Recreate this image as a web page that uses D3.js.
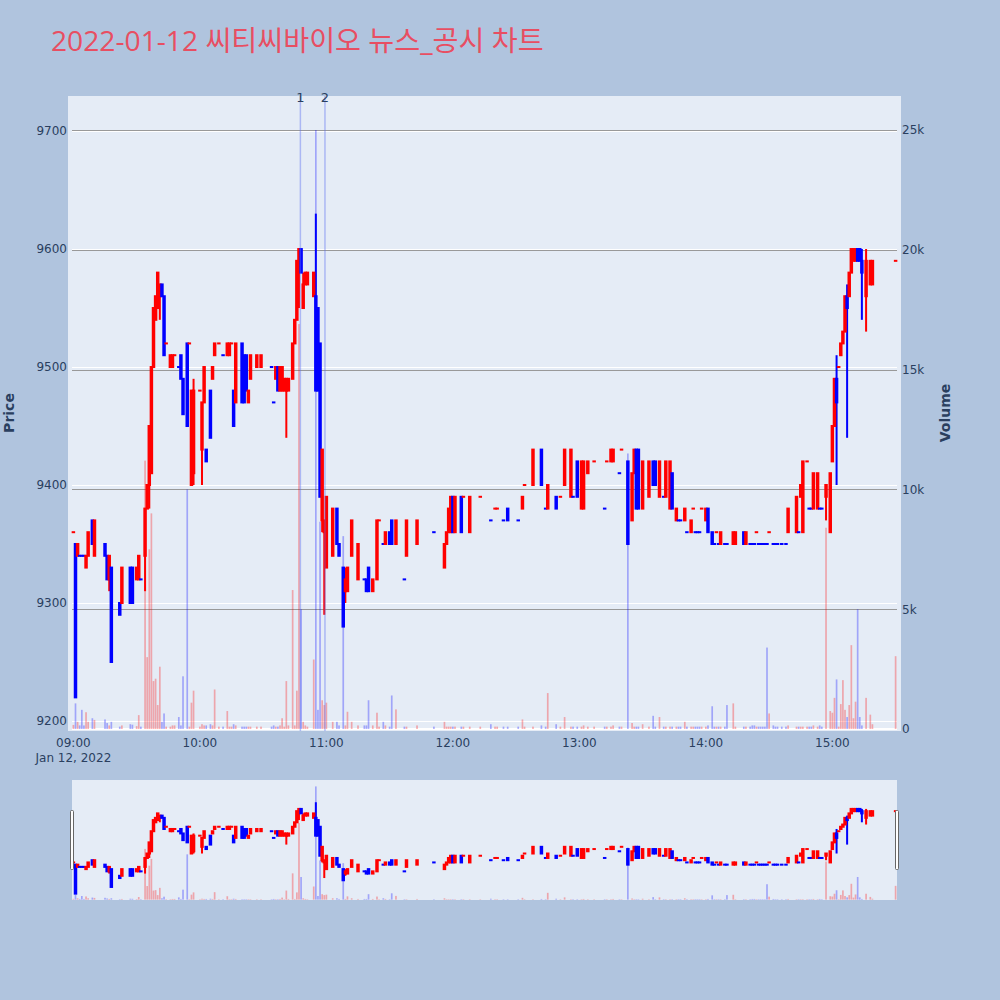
<!DOCTYPE html>
<html><head><meta charset="utf-8">
<script src="https://cdn.jsdelivr.net/npm/d3@7"></script>
<style>body{margin:0;background:#B0C4DE;}svg{display:block}</style>
</head><body><svg id="chart" width="1000" height="1000"></svg>
<script>
// ---- data (minutes after 09:00, 2022-01-12) ----
const minute = [0,1,2,3,4,5,6,7,9,10, 15,16,17,18,22,23,27,28,30,31, 32,34,35,36,37,38,39,40,41,42,
 43,44,46,47,48,50,51,52,54,55, 56,57,60,61,62,63,65,66,67,69, 71,73,74,75,76,77,80,81,82,83,
 84,87,89,94,95,96,97,98,99,100, 101,102,104,105,106,107,108,109,110,111, 114,115,116,117,118,119,120,123,125,126,
 128,129,130,132,135,138,139,140,142,144, 145,147,148,150,151,153,157,158,163,171, 176,177,178,179,180,181,184,185,188,193,
 198,200,201,204,206,211,213,214,218,222, 224,225,229,231,233,236,237,239,241,242, 244,247,252,253,255,256,259,260,263,265,
 266,267,268,270,273,275,276,278,280,281, 283,284,286,287,288,290,291,293,294,295, 296,297,298,300,301,303,304,305,306,307,
 309,310,313,314,318,319,321,322,323,324, 325,326,327,328,329,330,332,333,334,336, 338,339,343,344,345,346,348,349,350,351,
 353,354,355,357,359,360,361,362,363,364, 365,366,367,368,369,370,371,372,373,374, 376,378,379,390];
const openP = [9360,9350,9340,9340,9340,9340,9330,9340,9370,9340, 9350,9340,9320,9330,9300,9300,9330,9330,9320,9320, 9320,9340,9380,9400,9410,9500,9540,9550,9560,9570,
 9560,9520,9500,9500,9510,9500,9510,9490,9520,9520, 9400,9410,9480,9430,9470,9430,9480,9490,9510,9520, 9510,9510,9510,9520,9480,9470,9520,9510,9510,9470,
 9490,9500,9500,9500,9470,9490,9500,9480,9480,9480, 9480,9480,9490,9520,9540,9590,9600,9550,9570,9570, 9560,9560,9550,9520,9370,9360,9330,9340,9380,9350,
 9330,9310,9310,9340,9320,9320,9320,9330,9310,9320, 9370,9350,9350,9360,9370,9350,9320,9340,9350,9360, 9330,9350,9360,9360,9390,9360,9390,9390,9360,9390,
 9370,9380,9380,9370,9380,9370,9380,9400,9400,9430, 9380,9380,9390,9390,9400,9390,9390,9420,9380,9380, 9410,9420,9380,9420,9420,9420,9410,9430,9420,9370,
 9410,9430,9430,9380,9390,9420,9420,9390,9390,9390, 9380,9410,9370,9370,9370,9370,9360,9360,9380,9360, 9360,9360,9380,9370,9380,9360,9350,9360,9350,9350,
 9350,9350,9350,9350,9360,9350,9350,9350,9350,9360, 9350,9350,9350,9350,9350,9360,9350,9350,9350,9350, 9350,9360,9360,9360,9390,9360,9420,9380,9380,9380,
 9380,9380,9380,9390,9360,9420,9450,9490,9500,9510, 9520,9530,9560,9560,9580,9590,9590,9600,9600,9590, 9560,9570,9570,9590];
const highP = [9360,9350,9350,9340,9340,9340,9340,9360,9370,9370, 9350,9340,9340,9330,9300,9330,9330,9330,9330,9340, 9320,9380,9400,9450,9500,9550,9560,9580,9570,9570,
 9560,9520,9510,9510,9510,9500,9510,9490,9520,9520, 9480,9490,9480,9470,9500,9430,9480,9500,9520,9520, 9510,9520,9520,9520,9480,9520,9520,9510,9510,9480,
 9510,9510,9510,9500,9470,9500,9500,9500,9500,9490, 9490,9490,9520,9540,9590,9600,9600,9580,9580,9580, 9580,9630,9550,9520,9430,9370,9390,9380,9380,9350,
 9330,9330,9330,9370,9350,9320,9320,9330,9320,9370, 9370,9350,9360,9360,9370,9370,9320,9370,9370,9360, 9350,9360,9380,9390,9390,9390,9390,9390,9390,9390,
 9370,9380,9380,9370,9380,9370,9390,9400,9430,9430, 9380,9400,9390,9390,9430,9430,9390,9420,9420,9420, 9420,9420,9380,9420,9430,9430,9410,9430,9420,9410,
 9430,9430,9430,9420,9420,9420,9420,9420,9390,9420, 9420,9410,9380,9370,9370,9380,9360,9370,9380,9360, 9360,9360,9380,9380,9380,9360,9350,9360,9350,9360,
 9350,9350,9360,9360,9360,9360,9350,9350,9350,9360, 9350,9350,9350,9350,9350,9360,9350,9350,9350,9350, 9350,9380,9390,9360,9400,9420,9420,9380,9380,9410,
 9410,9380,9380,9400,9410,9450,9490,9510,9500,9520, 9530,9560,9570,9580,9600,9600,9600,9600,9600,9600, 9600,9590,9590,9590];
const lowP = [9360,9220,9340,9340,9340,9340,9330,9340,9350,9340, 9340,9320,9310,9250,9290,9300,9300,9300,9320,9320, 9320,9310,9380,9380,9410,9500,9540,9550,9540,9560,
 9510,9520,9500,9500,9510,9500,9490,9460,9450,9520, 9400,9400,9480,9400,9470,9420,9440,9490,9510,9520, 9510,9510,9510,9520,9450,9470,9470,9470,9480,9470,
 9490,9500,9500,9500,9470,9490,9480,9480,9480,9480, 9440,9480,9490,9520,9540,9550,9580,9550,9570,9570, 9560,9480,9480,9390,9360,9290,9330,9340,9350,9340,
 9280,9300,9310,9340,9320,9320,9310,9310,9310,9320, 9370,9350,9350,9350,9350,9350,9320,9340,9350,9360, 9330,9350,9360,9360,9360,9360,9360,9390,9360,9390,
 9370,9380,9380,9370,9370,9370,9380,9400,9400,9400, 9380,9380,9380,9390,9400,9390,9390,9390,9380,9380, 9410,9420,9380,9420,9420,9420,9410,9430,9350,9370,
 9410,9380,9380,9380,9390,9400,9400,9390,9390,9390, 9380,9380,9370,9370,9370,9370,9360,9360,9380,9360, 9360,9360,9380,9370,9360,9350,9350,9360,9350,9350,
 9350,9350,9350,9350,9350,9350,9350,9350,9350,9360, 9350,9350,9350,9350,9350,9360,9350,9350,9350,9350, 9350,9360,9360,9360,9390,9360,9420,9380,9380,9380,
 9380,9380,9380,9370,9360,9420,9450,9400,9500,9510, 9520,9530,9440,9560,9580,9590,9590,9590,9590,9540, 9530,9570,9570,9590];
const closeP = [9360,9220,9350,9340,9340,9340,9340,9360,9350,9370, 9340,9320,9340,9250,9290,9330,9300,9300,9330,9340, 9320,9380,9400,9450,9500,9550,9560,9580,9570,9560,
 9510,9520,9510,9510,9510,9500,9490,9460,9450,9520, 9480,9480,9480,9470,9500,9420,9440,9500,9520,9520, 9510,9520,9520,9520,9450,9520,9470,9470,9480,9480,
 9510,9510,9510,9500,9470,9500,9480,9500,9500,9490, 9490,9490,9520,9540,9590,9600,9580,9570,9580,9580, 9580,9480,9480,9390,9430,9370,9390,9380,9350,9340,
 9280,9320,9330,9370,9350,9320,9310,9310,9320,9370, 9370,9350,9360,9350,9350,9370,9320,9370,9370,9360, 9350,9360,9380,9390,9360,9390,9360,9390,9390,9390,
 9370,9380,9380,9370,9370,9370,9390,9400,9430,9400, 9380,9400,9380,9390,9430,9430,9390,9390,9420,9420, 9420,9420,9380,9420,9430,9430,9410,9430,9350,9410,
 9430,9380,9380,9420,9420,9400,9400,9420,9390,9420, 9420,9380,9380,9370,9370,9380,9360,9370,9380,9360, 9360,9360,9380,9380,9360,9350,9350,9360,9350,9360,
 9350,9350,9360,9360,9350,9360,9350,9350,9350,9360, 9350,9350,9350,9350,9350,9360,9350,9350,9350,9350, 9350,9380,9390,9360,9400,9420,9420,9380,9380,9410,
 9410,9380,9380,9400,9410,9450,9490,9470,9500,9520, 9530,9560,9550,9580,9600,9600,9600,9590,9590,9580, 9590,9590,9590,9590];
const volume = [170,1070,300,150,800,150,700,300,450,380, 400,250,150,300,100,150,200,180,120,580, 100,11200,3000,7500,9000,2000,2100,1000,2600,300,
 650,100,100,150,150,500,150,2200,10000,100, 1100,1600,100,200,150,150,200,150,1650,100, 100,750,100,100,200,150,100,100,100,100,
 100,100,100,100,150,100,100,150,450,100, 2000,150,5800,150,1600,16900,5000,300,150,100, 2900,25000,800,8650,1200,1000,1100,300,300,150,
 8050,150,720,300,150,150,150,1200,150,680, 100,300,150,100,1400,820,100,100,150,100, 300,100,100,100,100,100,100,100,100,100,
 200,100,100,100,100,100,400,100,100,150, 100,1500,200,100,500,100,100,100,100,150, 100,100,100,100,100,150,100,100,11500,250,
 100,100,100,200,100,550,100,500,100,100, 100,100,100,100,100,300,100,100,100,100, 100,100,100,100,150,950,100,100,100,100,
 100,1000,1070,100,100,100,100,150,150,100, 100,100,100,100,3400,650,150,100,100,100, 100,150,100,100,100,100,100,100,100,150,
 100,150,100,8400,750,680,1300,2070,100,1040, 2040,800,500,1000,3500,450,1140,5000,500,150, 1300,600,200,3040];
const newsTimes = ["10:47:40","10:59:20"];
const newsLabels = ["1","2"];
const priceTicks = [9200,9300,9400,9500,9600,9700];
const volumeTicks = [0,5000,10000,15000,20000,25000];
const volumeTickLabels = ["0","5k","10k","15k","20k","25k"];
const timeTickHours = [9,10,11,12,13,14,15];
const titleText = "2022-01-12 씨티씨바이오 뉴스_공시 차트";

// ---- helpers ----
const base = new Date(2022,0,12,9,0,0);
const toDate = m => new Date(base.getTime() + m*60000);
const dates = minute.map(toDate);
const INC = "#FF0000", DEC = "#0000FF";
let prevDir = 1, prevClose = null;
const dir = minute.map((m,i) => {
  let d;
  if (closeP[i] > openP[i]) d = 1;
  else if (closeP[i] < openP[i]) d = -1;
  else if (prevClose === null) d = 1;
  else if (closeP[i] > prevClose) d = 1;
  else if (closeP[i] < prevClose) d = -1;
  else d = prevDir;
  prevDir = d; prevClose = closeP[i];
  return d;
});

const svg = d3.select("#chart");
const FONT = "'DejaVu Sans', Verdana, sans-serif";
const TXT = "#2a3f5f";

const main = {x0:72, x1:897, y0:96, y1:731};
const sl = {x0:72, x1:897, y0:780, y1:900};
const x = d3.scaleTime().domain([toDate(-0.66), toDate(390.66)]).range([main.x0, main.x1]);
const pDom = [9191.5, 9729.7], vDom = [-83, 26419];
const yP = d3.scaleLinear().domain(pDom).range([main.y1, main.y0]);
const yV = d3.scaleLinear().domain(vDom).range([main.y1, main.y0]);
const yPs = d3.scaleLinear().domain(pDom).range([sl.y1, sl.y0]);
const yVs = d3.scaleLinear().domain(vDom).range([sl.y1, sl.y0]);

// title
svg.append("text").attr("x", 51).attr("y", 51)
  .attr("font-family", "'Open Sans','Noto Sans CJK KR',sans-serif").attr("font-size", 28.2)
  .attr("fill", "#E84E62").text(titleText);

// main background
svg.append("rect").attr("x", 68).attr("y", main.y0).attr("width", 901-68).attr("height", main.y1-main.y0).attr("fill", "#E5ECF6");

const defs = svg.append("defs");
defs.append("clipPath").attr("id","clipMain").append("rect").attr("x",68).attr("y",main.y0).attr("width",901-68).attr("height",main.y1-main.y0);
defs.append("clipPath").attr("id","clipSl").append("rect").attr("x",sl.x0).attr("y",sl.y0).attr("width",sl.x1-sl.x0).attr("height",sl.y1-sl.y0);

// price grid (white)
svg.append("g").selectAll("line").data(priceTicks).join("line")
  .attr("x1", main.x0).attr("x2", main.x1)
  .attr("y1", d => Math.round(yP(d))+0.5).attr("y2", d => Math.round(yP(d))+0.5)
  .attr("stroke", "#fff").attr("stroke-width", 1);
// volume grid (gray)
svg.append("g").selectAll("line").data(volumeTicks.filter(v=>v>0)).join("line")
  .attr("x1", main.x0).attr("x2", main.x1)
  .attr("y1", d => Math.round(yV(d))+0.5).attr("y2", d => Math.round(yV(d))+0.5)
  .attr("stroke", "#999").attr("stroke-width", 1);
// volume zero line
svg.append("line").attr("x1", main.x0).attr("x2", main.x1)
  .attr("y1", yV(0)).attr("y2", yV(0)).attr("stroke", "#fff").attr("stroke-width", 2);

const bodyHalf = 0.74;
function drawCandles(g, xs, yp, yv) {
  const idx = d3.range(minute.length);
  g.append("g").selectAll("rect").data(idx).join("rect")
    .attr("x", i => xs(dates[i]) - 1).attr("width", 2)
    .attr("y", i => yp(highP[i])).attr("height", i => Math.max(0, yp(lowP[i]) - yp(highP[i])))
    .attr("fill", i => dir[i] > 0 ? INC : DEC);
  g.append("g").selectAll("rect").data(idx).join("rect")
    .attr("x", i => xs(dates[i]) - bodyHalf - 1).attr("width", 2*bodyHalf + 2)
    .attr("y", i => yp(Math.max(openP[i], closeP[i])) - 1)
    .attr("height", i => Math.abs(yp(openP[i]) - yp(closeP[i])) + 2)
    .attr("fill", i => dir[i] > 0 ? INC : DEC);
  const bw = 0.8 * (xs(toDate(1)) - xs(toDate(0)));
  g.append("g").selectAll("rect").data(idx).join("rect")
    .attr("x", i => xs(dates[i]) - bw/2).attr("width", bw)
    .attr("y", i => yv(volume[i])).attr("height", i => yv(0) - yv(volume[i]))
    .attr("fill", i => dir[i] > 0 ? "rgba(255,0,0,0.3)" : "rgba(0,0,255,0.3)");
}
drawCandles(svg.append("g").attr("clip-path","url(#clipMain)"), x, yP, yV);

// news lines
const parseHM = s => { const [h,m,sec] = s.split(":").map(Number); return new Date(2022,0,12,h,m,sec||0); };
const ng = svg.append("g");
ng.selectAll("line").data(newsTimes).join("line")
  .attr("x1", d => x(parseHM(d))).attr("x2", d => x(parseHM(d)))
  .attr("y1", main.y0).attr("y2", main.y1)
  .attr("stroke", "rgba(90,110,240,0.42)").attr("stroke-width", 1.5);
ng.selectAll("text").data(newsTimes).join("text")
  .attr("x", d => x(parseHM(d))).attr("y", 101.5).attr("text-anchor","middle")
  .attr("font-family", FONT).attr("font-size", 13).attr("fill", TXT)
  .text((d,i) => newsLabels[i]);

// axes tick labels
svg.append("g").selectAll("text").data(priceTicks).join("text")
  .attr("x", 67).attr("y", d => yP(d) + 4.3).attr("text-anchor","end")
  .attr("font-family", FONT).attr("font-size", 12).attr("fill", TXT).text(d => d);
svg.append("g").selectAll("text").data(volumeTicks).join("text")
  .attr("x", 902).attr("y", d => yV(d) + 4.3).attr("text-anchor","start")
  .attr("font-family", FONT).attr("font-size", 12).attr("fill", TXT).text((d,i) => volumeTickLabels[i]);
const fmt = d3.timeFormat("%H:%M");
svg.append("g").selectAll("text").data(timeTickHours).join("text")
  .attr("x", h => x(new Date(2022,0,12,h,0,0))).attr("y", 746.5).attr("text-anchor","middle")
  .attr("font-family", FONT).attr("font-size", 12).attr("fill", TXT)
  .text(h => fmt(new Date(2022,0,12,h,0,0)));
svg.append("text").attr("x", x(base)).attr("y", 762).attr("text-anchor","middle")
  .attr("font-family", FONT).attr("font-size", 12).attr("fill", TXT).text(d3.timeFormat("%b %d, %Y")(base));

// axis titles
svg.append("text").attr("transform","translate(14,413) rotate(-90)").attr("text-anchor","middle")
  .attr("font-family", FONT).attr("font-size", 14).attr("font-weight","bold").attr("fill", TXT).text("Price");
svg.append("text").attr("transform","translate(950,413) rotate(-90)").attr("text-anchor","middle")
  .attr("font-family", FONT).attr("font-size", 14).attr("font-weight","bold").attr("fill", TXT).text("Volume");

// range slider
svg.append("rect").attr("x", sl.x0).attr("y", sl.y0).attr("width", sl.x1-sl.x0).attr("height", sl.y1-sl.y0).attr("fill","#E5ECF6");
drawCandles(svg.append("g").attr("clip-path","url(#clipSl)"), x, yPs, yVs);
[sl.x0 - 1.5, sl.x1 - 1.5].forEach(hx => {
  svg.append("rect").attr("x", hx).attr("y", sl.y0 + 30.5).attr("width", 3).attr("height", 59)
    .attr("rx", 1).attr("fill", "#fff").attr("stroke", "#666").attr("stroke-width", 1);
});
</script>
</body></html>
